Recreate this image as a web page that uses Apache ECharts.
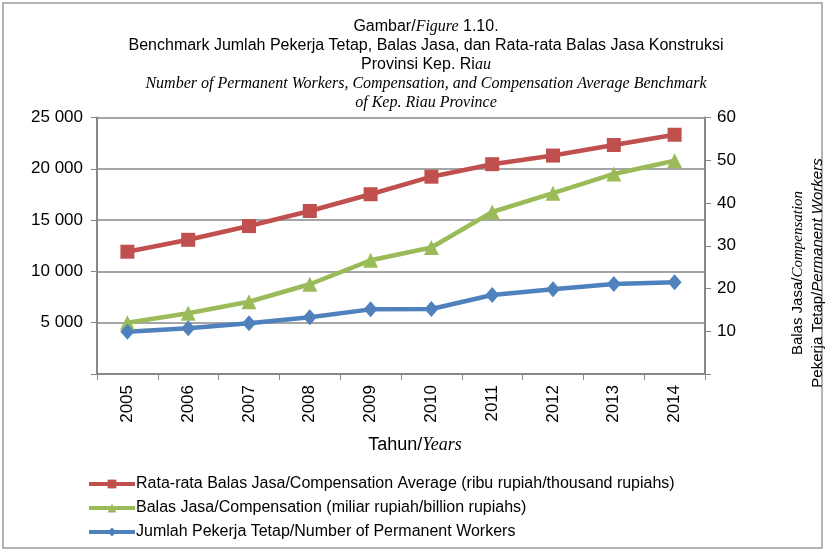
<!DOCTYPE html>
<html>
<head>
<meta charset="utf-8">
<script src="https://cdn.jsdelivr.net/npm/echarts@6/dist/echarts.min.js"></script>
<style>html,body{margin:0;padding:0;background:#fff;}#c{width:825px;height:552px;}</style>
</head>
<body>
<div id="c"></div>
<script>
const years = ['2005','2006','2007','2008','2009','2010','2011','2012','2013','2014'];
const avgComp = [11920, 13080, 14420, 15890, 17520, 19230, 20450, 21290, 22320, 23320];
const comp = [12.0, 14.2, 16.9, 21.0, 26.6, 29.6, 37.9, 42.3, 46.8, 49.9];
const workers = [4120, 4450, 4940, 5530, 6300, 6340, 7700, 8250, 8770, 8940];
const leftTicks = [0, 5000, 10000, 15000, 20000, 25000];
const rightTicks = [0, 10, 20, 30, 40, 50, 60];

const SANS = 'Liberation Sans';
const SERIF = 'Liberation Serif';
const gray = '#878787';

const chart = echarts.init(document.getElementById('c'));
chart.setOption({
  backgroundColor: '#fff',
  animation: false,
  textStyle: { fontFamily: SANS, color: '#000' },
  title: {
    left: 421, top: 12, textAlign: 'center',
    text: 'Gambar/{i|Figure} 1.10.\nBenchmark Jumlah Pekerja Tetap, Balas Jasa, dan Rata-rata Balas Jasa Konstruksi\nProvinsi Kep. Ri{i|au}\n{i|Number of Permanent Workers, Compensation, and Compensation Average Benchmark}\n{i|of Kep. Riau Province}',
    textStyle: {
      fontFamily: SANS, fontSize: 16, fontWeight: 'normal', color: '#000', lineHeight: 19,
      rich: { i: { fontFamily: SERIF, fontStyle: 'italic', fontSize: 16, lineHeight: 19, color: '#000' } }
    }
  },
  legend: {
    orient: 'vertical', left: 82, top: 471, itemWidth: 46, itemHeight: 11, itemGap: 8,
    lineStyle: { width: 4 },
    textStyle: { fontFamily: SANS, fontSize: 16, color: '#000', padding: [0, 0, 0, -4] },
    data: ['Rata-rata Balas Jasa/Compensation Average (ribu rupiah/thousand rupiahs)',
           'Balas Jasa/Compensation (miliar rupiah/billion rupiahs)',
           'Jumlah Pekerja Tetap/Number of Permanent Workers']
  },
  grid: { left: 97, right: 120, top: 117.5, bottom: 178 },
  xAxis: {
    type: 'category', data: years, boundaryGap: true,
    axisLine: { lineStyle: { color: gray, width: 2 } },
    axisTick: { show: true, length: 6, lineStyle: { color: gray, width: 1 } },
    axisLabel: { rotate: 90, margin: 11, fontSize: 17, color: '#000', fontFamily: SANS },
    name: 'Tahun/{i|Years}', nameLocation: 'middle', nameGap: 62,
    nameTextStyle: { fontFamily: SANS, fontSize: 18, color: '#000', padding: [0, 0, 0, 28],
      rich: { i: { fontFamily: SERIF, fontStyle: 'italic', fontSize: 18, color: '#000' } } }
  },
  yAxis: [
    {
      type: 'value', min: leftTicks[0], max: leftTicks[leftTicks.length - 1], interval: 5000,
      axisLine: { show: true, lineStyle: { color: gray, width: 2 } },
      axisTick: { show: true, length: 6, lineStyle: { color: gray } },
      splitLine: { lineStyle: { color: gray, width: 1.5 } },
      axisLabel: { margin: 14, fontSize: 17, color: '#000', fontFamily: SANS,
        formatter: v => v === 0 ? '' : String(v).replace(/\B(?=(\d{3})+(?!\d))/g, ' ') }
    },
    {
      type: 'value', min: rightTicks[0], max: rightTicks[rightTicks.length - 1], interval: 10,
      position: 'right',
      axisLine: { show: true, lineStyle: { color: gray, width: 2 } },
      axisTick: { show: true, length: 6, lineStyle: { color: gray } },
      splitLine: { show: false },
      axisLabel: { margin: 12, fontSize: 17, color: '#000', fontFamily: SANS,
        formatter: v => v === 0 ? '' : String(v) }
    }
  ],
  graphic: [
    { type: 'rect', shape: { x: 3, y: 3, width: 819, height: 545 },
      style: { fill: 'none', stroke: '#9a9a9a', lineWidth: 1.5 }, silent: true },
    { type: 'text', x: 808, y: 273, rotation: Math.PI / 2,
      style: {
        text: 'Balas Jasa/{i|Compensation}\nPekerja Tetap/{s|Permanent Workers}',
        fontFamily: SANS, fontSize: 15, fill: '#000', align: 'center', verticalAlign: 'middle', lineHeight: 20,
        rich: {
          i: { fontFamily: SERIF, fontStyle: 'italic', fontSize: 15, lineHeight: 20 },
          s: { fontFamily: SANS, fontStyle: 'italic', fontSize: 15, lineHeight: 20 }
        }
      } }
  ],
  series: [
    { name: 'Rata-rata Balas Jasa/Compensation Average (ribu rupiah/thousand rupiahs)',
      type: 'line', yAxisIndex: 0, data: avgComp, symbol: 'rect', symbolSize: 14,
      color: '#C0504D', lineStyle: { width: 4.5, color: '#C0504D' }, itemStyle: { color: '#C0504D' } },
    { name: 'Balas Jasa/Compensation (miliar rupiah/billion rupiahs)',
      type: 'line', yAxisIndex: 1, data: comp, symbol: 'triangle', symbolSize: 15,
      color: '#9BBB59', lineStyle: { width: 4.5, color: '#9BBB59' }, itemStyle: { color: '#9BBB59' } },
    { name: 'Jumlah Pekerja Tetap/Number of Permanent Workers',
      type: 'line', yAxisIndex: 0, data: workers, symbol: 'diamond', symbolSize: [14, 16],
      color: '#4F81BD', lineStyle: { width: 4.5, color: '#4F81BD' }, itemStyle: { color: '#4F81BD' } }
  ]
});
</script>
</body>
</html>
